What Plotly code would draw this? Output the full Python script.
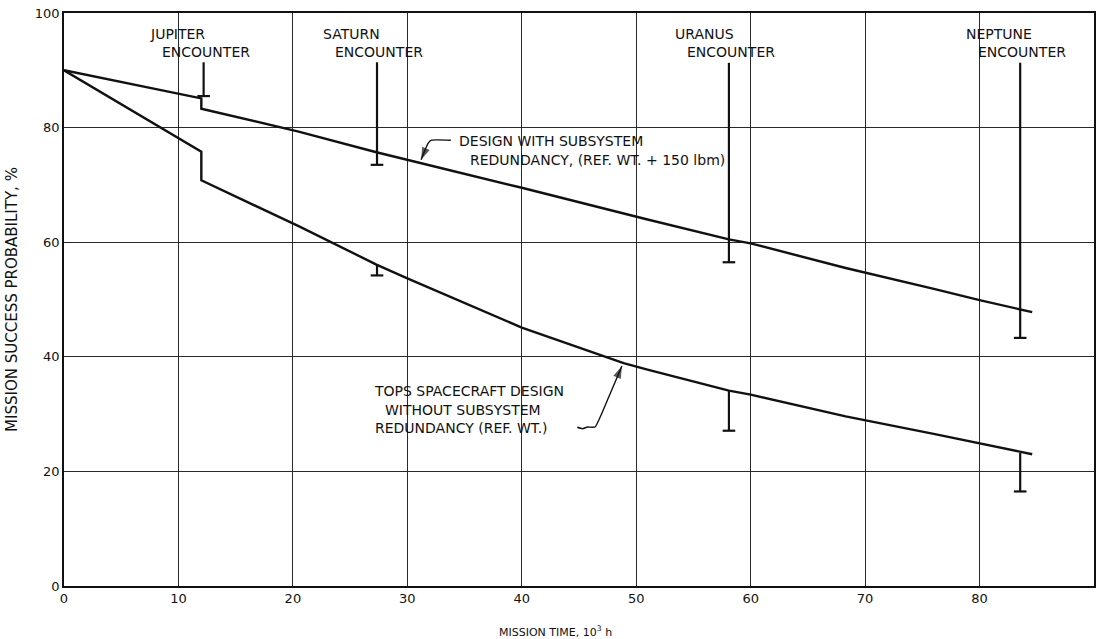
import plotly.graph_objects as go

# Mission time (10^3 h) vs. mission success probability (%) for each design
t_redundant = [0, 12, 12, 20.5, 27.3, 30, 40, 50.9, 58.1, 60, 68.3, 76.1, 80, 84.6]
p_redundant = [90, 85.1, 83.3, 79.3, 75.7, 74.4, 69.5, 64.0, 60.5, 59.8, 55.5, 51.8, 49.9, 47.8]

t_baseline = [0, 12, 12, 20.5, 27.3, 30, 40, 47.2, 48.9, 50.9, 58.1, 60, 68.3, 76.1, 80, 84.6]
p_baseline = [90, 75.8, 70.8, 62.8, 56.1, 53.7, 45.1, 40.0, 38.9, 37.8, 34.1, 33.4, 29.6, 26.5, 24.9, 23.0]

# Planetary encounters and the probability ranges marked at each one
planets = ["JUPITER", "SATURN", "URANUS", "NEPTUNE"]
t_encounter = [12.2, 27.35, 58.1, 83.55]
p_marker_top = [91.4, 91.4, 91.3, 91.3]
p_redundant_low = [85.5, 73.5, 56.5, 43.3]
p_baseline_high = [None, 56.1, 34.1, 23.2]
p_baseline_low = [None, 54.2, 27.1, 16.5]

x_ticks = [0, 10, 20, 30, 40, 50, 60, 70, 80, 90]
y_ticks = [0, 20, 40, 60, 80, 100]

FONT = "DejaVu Sans"
INK = "#111111"
CAP = 0.55  # half-width of the range-bar caps, in 10^3 h
NOTE = dict(family=FONT, size=14, color=INK)

fig = go.Figure()

fig.add_trace(go.Scatter(x=t_redundant, y=p_redundant, mode="lines",
                         line=dict(color=INK, width=2.4), hoverinfo="skip"))
fig.add_trace(go.Scatter(x=t_baseline, y=p_baseline, mode="lines",
                         line=dict(color=INK, width=2.4), hoverinfo="skip"))

# Encounter markers: stem from the label down to a capped bar, plus capped bars on the lower curve
bx, by = [], []
for t, top, low in zip(t_encounter, p_marker_top, p_redundant_low):
    bx += [t, t, None, t - CAP, t + CAP, None]
    by += [top, low, None, low, low, None]
for t, hi, lo in zip(t_encounter, p_baseline_high, p_baseline_low):
    if hi is None:
        continue
    bx += [t, t, None, t - CAP, t + CAP, None]
    by += [hi, lo, None, lo, lo, None]
fig.add_trace(go.Scatter(x=bx, y=by, mode="lines",
                         line=dict(color=INK, width=2.2), hoverinfo="skip"))


def leader(xs, ys):
    """Callout leader line ending in a filled arrowhead at its last point."""
    n = len(xs)
    fig.add_trace(go.Scatter(
        x=xs, y=ys, mode="lines+markers", hoverinfo="skip",
        line=dict(color=INK, width=1.4, shape="spline", smoothing=0.4),
        marker=dict(symbol="arrow", angleref="previous", color=INK,
                    size=[0] * (n - 1) + [13], line=dict(width=0)),
    ))


# Leader for the redundant design callout
leader([33.8, 32.1, 31.8, 31.2], [77.8, 77.8, 77.2, 74.4])
# Leader for the baseline design callout (small squiggle, then up to the curve)
leader([44.85, 45.3, 45.75, 46.4, 47.6, 48.75], [27.7, 27.45, 27.75, 27.75, 33.0, 38.4])

annotations = []
for name, t in zip(planets, t_encounter):
    annotations.append(dict(x=t, y=96.4, xref="x", yref="y", text=name, showarrow=False,
                            xanchor="left", yanchor="middle", xshift=-56, font=NOTE))
    annotations.append(dict(x=t, y=93.2, xref="x", yref="y", text="ENCOUNTER", showarrow=False,
                            xanchor="left", yanchor="middle", xshift=-44, font=NOTE))

annotations.append(dict(x=34.3, y=77.6, xref="x", yref="y", text="DESIGN WITH SUBSYSTEM",
                        showarrow=False, xanchor="left", yanchor="middle", font=NOTE))
annotations.append(dict(x=35.3, y=74.4, xref="x", yref="y",
                        text="REDUNDANCY, (REF. WT. + 150 lbm)",
                        showarrow=False, xanchor="left", yanchor="middle", font=NOTE))

for txt, xl, yl in [("TOPS SPACECRAFT DESIGN", 26.9, 34.0),
                    ("WITHOUT SUBSYSTEM", 27.9, 30.7),
                    ("REDUNDANCY (REF. WT.)", 27.0, 27.6)]:
    annotations.append(dict(x=xl, y=yl, xref="x", yref="y", text=txt, showarrow=False,
                            xanchor="left", yanchor="middle", font=NOTE))

# x-axis title, set slightly left of the axis centre
annotations.append(dict(x=0.4775, y=-0.080, xref="paper", yref="paper",
                        text="MISSION TIME, 10<sup>3</sup> h",
                        showarrow=False, xanchor="center", yanchor="middle",
                        font=dict(family=FONT, size=11, color=INK)))

axis_common = dict(showgrid=True, gridcolor="#2a2a2a", gridwidth=1.3,
                   showline=True, linecolor=INK, linewidth=1.6, mirror=True,
                   zeroline=False, ticks="", tickfont=dict(family=FONT, size=13, color=INK))

fig.update_layout(
    width=1101, height=639,
    margin=dict(l=64, r=7, t=13, b=53, autoexpand=False),
    paper_bgcolor="white", plot_bgcolor="white",
    showlegend=False,
    xaxis=dict(range=[0, 90], tickvals=x_ticks, **axis_common),
    yaxis=dict(range=[0, 100], tickvals=y_ticks,
               title=dict(text="MISSION SUCCESS PROBABILITY, %", standoff=14,
                          font=dict(family=FONT, size=15, color=INK)),
               **axis_common),
    annotations=annotations,
)

fig.write_html("out.html")
